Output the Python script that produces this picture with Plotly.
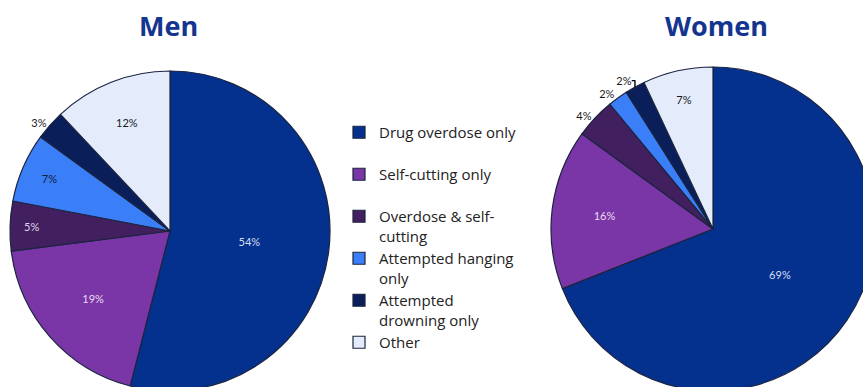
import plotly.graph_objects as go

categories = ["Drug overdose only", "Self-cutting only", "Overdose & self-cutting",
              "Attempted hanging only", "Attempted drowning only", "Other"]
legend_labels = ["Drug overdose only<br> ", "Self-cutting only<br> ", "Overdose & self-<br>cutting",
                 "Attempted hanging<br>only", "Attempted<br>drowning only", "Other"]
men_values = [54, 19, 5, 7, 3, 12]
women_values = [69, 16, 4, 2, 2, 7]
men_textpos = ["inside", "inside", "inside", "inside", "outside", "inside"]
women_textpos = ["inside", "inside", "outside", "outside", "outside", "inside"]
colors = ["#05318E", "#7A35A6", "#42205F", "#3A7FF7", "#0A1F5A", "#E4ECFB"]
text_colors_men = ["#d6def3", "#eadcf5", "#e0d6ea", "#0d1a3a", "#1a1a1a", "#1a1a1a"]
text_colors_women = ["#d6def3", "#eadcf5", "#1a1a1a", "#1a1a1a", "#1a1a1a", "#1a1a1a"]

W, H = 880, 400

def dom(cx, cy, r):
    return dict(x=[(cx - r) / W, (cx + r) / W], y=[1 - (cy + r) / H, 1 - (cy - r) / H])

fig = go.Figure()
fig.add_trace(go.Pie(
    labels=legend_labels, values=men_values, sort=False, direction="clockwise", rotation=0,
    marker=dict(colors=colors, line=dict(color="#1b2440", width=1.2)),
    textinfo="percent", texttemplate="%{value}%", textposition=men_textpos,
    textfont=dict(family="Lato", size=11, color=text_colors_men),
    insidetextorientation="horizontal",
    domain=dom(170, 231, 160), name="Men", hovertext=categories, hoverinfo="text+percent",
))
fig.add_trace(go.Pie(
    labels=legend_labels, values=women_values, sort=False, direction="clockwise", rotation=0,
    marker=dict(colors=colors, line=dict(color="#1b2440", width=1.2)),
    textinfo="percent", texttemplate="%{value}%", textposition=women_textpos,
    textfont=dict(family="Lato", size=11, color=text_colors_women),
    insidetextorientation="horizontal",
    domain=dom(713, 229, 162), name="Women", hovertext=categories, hoverinfo="text+percent",
))

fig.add_annotation(text="<b>Men</b>", x=168 / W, y=1 - 25 / H, xref="paper", yref="paper",
                   xanchor="center", yanchor="middle", showarrow=False,
                   font=dict(family="Open Sans", size=27, color="#14358F"))
fig.add_annotation(text="<b>Women</b>", x=716 / W, y=1 - 25 / H, xref="paper", yref="paper",
                   xanchor="center", yanchor="middle", showarrow=False,
                   font=dict(family="Open Sans", size=27, color="#14358F"))

fig.update_layout(
    width=W, height=H, margin=dict(l=0, r=0, t=0, b=0),
    paper_bgcolor="white", plot_bgcolor="white",
    showlegend=True,
    legend=dict(x=339 / W, y=1 - 116 / H, xanchor="left", yanchor="top",
                font=dict(family="Open Sans", size=15, color="#222222"),
                valign="top", itemwidth=30, tracegroupgap=0,
                bgcolor="rgba(0,0,0,0)"),
)

fig.write_html("out.html", config={"displayModeBar": False},
               post_script="document.body.style.margin='0';document.body.style.overflow='hidden';")
